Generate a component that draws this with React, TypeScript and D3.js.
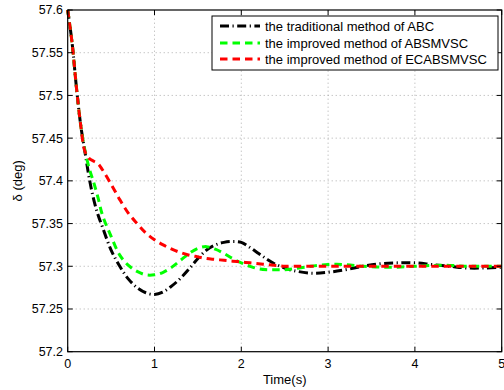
import React, { useEffect } from "react";
import * as d3 from "d3";

// time axis (s) shared by all three responses
const time = [0, 0.05, 0.1, 0.15, 0.2, 0.25, 0.3, 0.35, 0.4, 0.5, 0.6, 0.7, 0.8, 0.9, 1.0,
  1.1, 1.2, 1.3, 1.4, 1.5, 1.6, 1.7, 1.8, 1.9, 2.0, 2.1, 2.2, 2.3, 2.4, 2.5, 2.6,
  2.8, 3.0, 3.2, 3.4, 3.6, 3.8, 4.0, 4.2, 4.4, 4.6, 4.8, 5.0];

// the traditional method of ABC
const abc = [57.6, 57.562, 57.51, 57.465, 57.433, 57.402, 57.378, 57.36, 57.346, 57.319, 57.3, 57.285, 57.275, 57.269, 57.267,
  57.27, 57.277, 57.286, 57.297, 57.309, 57.319, 57.325, 57.328, 57.329, 57.328, 57.322, 57.315, 57.308, 57.302, 57.298, 57.295,
  57.292, 57.293, 57.296, 57.3, 57.303, 57.304, 57.304, 57.302, 57.3, 57.298, 57.298, 57.299];

// the improved method of ABSMVSC
const absmvsc = [57.6, 57.562, 57.51, 57.465, 57.435, 57.414, 57.398, 57.38, 57.36, 57.335, 57.313, 57.301, 57.294, 57.29, 57.29,
  57.293, 57.299, 57.307, 57.315, 57.321, 57.323, 57.32, 57.315, 57.309, 57.304, 57.3, 57.297, 57.296, 57.296, 57.296, 57.297,
  57.3, 57.302, 57.302, 57.3, 57.299, 57.299, 57.3, 57.301, 57.301, 57.3, 57.3, 57.3];

// the improved method of ECABSMVSC
const ecabsmvsc = [57.6, 57.562, 57.51, 57.465, 57.434, 57.426, 57.423, 57.42, 57.413, 57.396, 57.378, 57.362, 57.35, 57.339, 57.331,
  57.325, 57.32, 57.316, 57.313, 57.311, 57.309, 57.308, 57.307, 57.306, 57.305, 57.304, 57.303, 57.302, 57.301, 57.3, 57.3,
  57.3, 57.3, 57.3, 57.3, 57.3, 57.3, 57.3, 57.3, 57.3, 57.3, 57.3, 57.3];

const xTicks = [0, 1, 2, 3, 4, 5];
const yTicks = [57.2, 57.25, 57.3, 57.35, 57.4, 57.45, 57.5, 57.55, 57.6];

const legendLabels = [
  "the traditional method of ABC",
  "the improved method of ABSMVSC",
  "the improved method of ECABSMVSC",
];

const W = 504;
const H = 390;
const margin = { top: 10, right: 2.3, bottom: 38.3, left: 67.7 };
const font = "'Liberation Sans', Arial, sans-serif";

const series = [
  { values: abc, color: "#000000", dash: "9 3.5 1.2 3.5" },
  { values: absmvsc, color: "#00ff00", dash: "7.5 5" },
  { values: ecabsmvsc, color: "#ff0000", dash: "7.5 5" },
];

export default function App() {
  useEffect(() => {
    document.body.style.margin = "0";
  }, []);

  const x = d3.scaleLinear().domain([0, 5]).range([margin.left, W - margin.right]);
  const y = d3.scaleLinear().domain([57.2, 57.6]).range([H - margin.bottom, margin.top]);

  const line = d3.line<number>()
    .x((_, i) => x(time[i]))
    .y(d => y(d))
    .curve(d3.curveCatmullRom.alpha(0.5));

  const x0 = x(0), x1 = x(5), y0 = y(57.2), y1 = y(57.6);
  const tickLen = 5;

  // legend box
  const lg = { x: 212, y: 16, w: 286, h: 54 };
  const rowY = [26, 43, 59];

  return (
    <svg width={W} height={H} style={{ display: "block", background: "#fff" }} fontFamily={font}>
      <rect x={0} y={0} width={W} height={H} fill="#fff" />

      {/* grid */}
      {xTicks.slice(1, -1).map(t => (
        <line key={"gx" + t} x1={x(t)} x2={x(t)} y1={y0} y2={y1}
          stroke="#999" strokeWidth={0.8} strokeDasharray="1 3" />
      ))}
      {yTicks.slice(1, -1).map(t => (
        <line key={"gy" + t} x1={x0} x2={x1} y1={y(t)} y2={y(t)}
          stroke="#999" strokeWidth={0.8} strokeDasharray="1 3" />
      ))}

      {/* curves */}
      {series.map((s, i) => (
        <path key={i} d={line(s.values) || ""} fill="none" stroke={s.color}
          strokeWidth={3} strokeDasharray={s.dash} />
      ))}

      {/* frame */}
      <rect x={x0} y={y1} width={x1 - x0} height={y0 - y1} fill="none" stroke="#000" strokeWidth={1.2} />

      {/* ticks */}
      {xTicks.map(t => (
        <g key={"tx" + t}>
          <line x1={x(t)} x2={x(t)} y1={y0} y2={y0 - tickLen} stroke="#000" />
          <line x1={x(t)} x2={x(t)} y1={y1} y2={y1 + tickLen} stroke="#000" />
          <text x={x(t)} y={368} textAnchor="middle" fontSize={12.5}>{d3.format("")(t)}</text>
        </g>
      ))}
      {yTicks.map(t => (
        <g key={"ty" + t}>
          <line x1={x0} x2={x0 + tickLen} y1={y(t)} y2={y(t)} stroke="#000" />
          <line x1={x1} x2={x1 - tickLen} y1={y(t)} y2={y(t)} stroke="#000" />
          <text x={63} y={y(t)} dy="0.35em" textAnchor="end" fontSize={12.5}>{String(+t.toFixed(2))}</text>
        </g>
      ))}

      {/* axis labels */}
      <text x={(x0 + x1) / 2} y={384} textAnchor="middle" fontSize={13}>Time(s)</text>
      <text transform={`translate(22,${(y0 + y1) / 2}) rotate(-90)`} textAnchor="middle" fontSize={13}>δ (deg)</text>

      {/* legend */}
      <rect x={lg.x} y={lg.y} width={lg.w} height={lg.h} fill="#fff" stroke="#000" strokeWidth={1} />
      {series.map((s, i) => (
        <g key={"lg" + i}>
          <line x1={220} x2={260} y1={rowY[i]} y2={rowY[i]} stroke={s.color} strokeWidth={3} strokeDasharray={s.dash} />
          <text x={265} y={rowY[i]} dy="0.35em" fontSize={13}>{legendLabels[i]}</text>
        </g>
      ))}
    </svg>
  );
}
